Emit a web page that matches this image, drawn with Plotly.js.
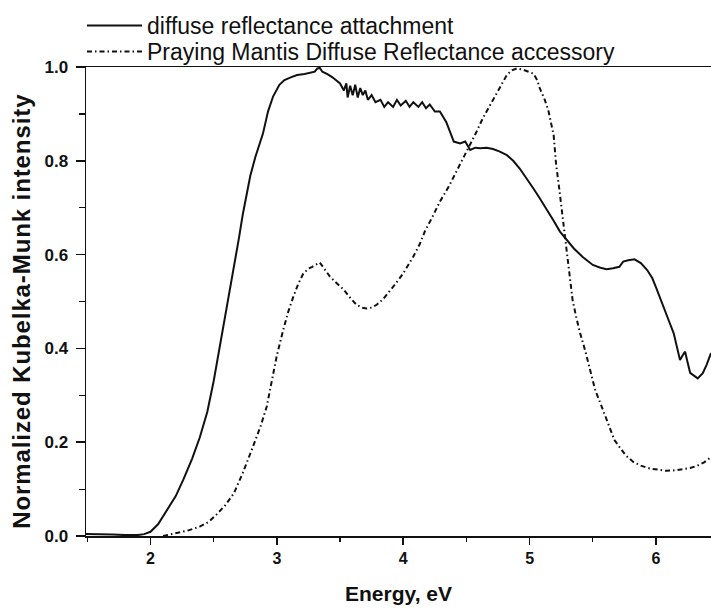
<!DOCTYPE html>
<html>
<head>
<meta charset="utf-8">
<script src="https://cdn.plot.ly/plotly-3.0.1.min.js"></script>
<style>html,body{margin:0;padding:0;background:#fff;}#chart{width:711px;height:608px;}
.annotation-text.ytitle-ann, .ytitleann text { letter-spacing: 0.9px; }
</style>
</head>
<body>
<div id="chart"></div>
<script>
var seriesNames = ["diffuse reflectance attachment", "Praying Mantis Diffuse Reflectance accessory"];
var xTitle = "Energy, eV";
var yTitle = "Normalized Kubelka-Munk intensity";

var attachX = [1.49,1.6,1.7,1.8,1.9,1.95,2.0,2.06,2.13,2.2,2.26,2.33,2.39,2.45,2.50,2.56,2.63,2.70,2.73,2.76,2.79,2.83,2.86,2.89,2.93,2.97,3.02,3.06,3.11,3.16,3.22,3.28,3.30,3.32,3.34,3.36,3.40,3.44,3.47,3.50,3.53,3.55,3.56,3.58,3.60,3.62,3.64,3.66,3.68,3.70,3.72,3.75,3.78,3.82,3.85,3.88,3.92,3.95,3.98,4.02,4.05,4.08,4.12,4.15,4.18,4.21,4.25,4.29,4.34,4.40,4.45,4.49,4.53,4.57,4.61,4.66,4.71,4.76,4.82,4.87,4.92,4.97,5.03,5.08,5.13,5.19,5.24,5.30,5.35,5.42,5.50,5.56,5.61,5.66,5.71,5.74,5.78,5.83,5.88,5.93,5.97,6.00,6.03,6.06,6.10,6.14,6.17,6.19,6.21,6.23,6.25,6.27,6.30,6.33,6.37,6.40,6.435];
var attachY = [0.004,0.004,0.003,0.002,0.002,0.004,0.009,0.025,0.055,0.085,0.12,0.165,0.21,0.265,0.33,0.42,0.525,0.635,0.685,0.728,0.768,0.808,0.835,0.858,0.905,0.937,0.962,0.972,0.978,0.983,0.985,0.988,0.99,0.997,0.998,0.99,0.985,0.978,0.972,0.965,0.95,0.965,0.935,0.96,0.94,0.962,0.935,0.955,0.94,0.95,0.93,0.94,0.925,0.93,0.915,0.925,0.915,0.93,0.918,0.928,0.915,0.925,0.915,0.925,0.912,0.92,0.905,0.905,0.883,0.841,0.837,0.841,0.823,0.828,0.827,0.828,0.825,0.82,0.812,0.80,0.784,0.765,0.741,0.72,0.699,0.672,0.649,0.628,0.613,0.595,0.578,0.572,0.569,0.571,0.574,0.585,0.588,0.59,0.582,0.567,0.55,0.53,0.51,0.49,0.46,0.432,0.40,0.375,0.385,0.393,0.37,0.348,0.342,0.336,0.347,0.365,0.39];

var mantisX = [2.10,2.13,2.2,2.3,2.39,2.46,2.52,2.59,2.66,2.73,2.81,2.87,2.92,2.95,3.00,3.05,3.09,3.13,3.17,3.21,3.25,3.28,3.31,3.34,3.38,3.42,3.47,3.53,3.58,3.63,3.67,3.71,3.75,3.79,3.84,3.89,3.94,4.00,4.04,4.08,4.13,4.17,4.23,4.29,4.36,4.42,4.48,4.53,4.58,4.63,4.69,4.75,4.79,4.82,4.86,4.90,4.95,4.99,5.03,5.06,5.08,5.12,5.15,5.19,5.21,5.23,5.25,5.27,5.29,5.32,5.34,5.37,5.40,5.44,5.48,5.52,5.56,5.60,5.64,5.67,5.71,5.76,5.82,5.88,5.95,6.02,6.08,6.15,6.21,6.27,6.32,6.38,6.435];
var mantisY = [0.0,0.002,0.006,0.012,0.02,0.03,0.045,0.065,0.091,0.134,0.19,0.233,0.276,0.318,0.385,0.439,0.478,0.51,0.538,0.56,0.57,0.574,0.578,0.583,0.568,0.553,0.54,0.525,0.508,0.493,0.487,0.485,0.487,0.493,0.505,0.521,0.538,0.56,0.578,0.596,0.622,0.649,0.68,0.713,0.745,0.777,0.806,0.834,0.862,0.891,0.92,0.947,0.968,0.983,0.993,0.997,0.994,0.99,0.986,0.972,0.955,0.93,0.905,0.855,0.791,0.75,0.706,0.665,0.62,0.56,0.503,0.465,0.432,0.395,0.355,0.31,0.283,0.253,0.226,0.205,0.19,0.172,0.158,0.15,0.144,0.141,0.139,0.14,0.142,0.145,0.149,0.157,0.168];

var xTicks = [2,3,4,5,6];
var yTicks = [0.0,0.2,0.4,0.6,0.8,1.0];
var yTickText = ["0.0","0.2","0.4","0.6","0.8","1.0"];

var FONT = "Liberation Sans, Arial, sans-serif";

var traces = [
  {x: attachX, y: attachY, name: seriesNames[0], type: "scatter", mode: "lines",
   line: {color: "#111", width: 2}, legend: "legend"},
  {x: mantisX, y: mantisY, name: seriesNames[1], type: "scatter", mode: "lines",
   line: {color: "#111", width: 2, dash: "5px,3px,1.5px,3px"}, legend: "legend2"}
];

function legendBox(ytop) {
  return {x: -0.0064, y: ytop, xanchor: "left", yanchor: "top",
          font: {family: FONT, size: 23, color: "#111"},
          bgcolor: "rgba(0,0,0,0)", borderwidth: 0, itemwidth: 55};
}

var layout = {
  width: 711, height: 608,
  margin: {l: 86, r: 0, t: 67, b: 72, pad: 0},
  paper_bgcolor: "#fff", plot_bgcolor: "#fff",
  showlegend: true,
  legend: legendBox(1.1343),
  legend2: legendBox(1.0789),
  xaxis: {range: [1.49, 6.435], tickvals: xTicks, ticktext: xTicks.map(String),
          ticks: "outside", ticklen: 7, tickwidth: 1.5, tickcolor: "#111",
          minor: {dtick: 0.5, tick0: 0, ticks: "outside", ticklen: 4, tickwidth: 1.2, tickcolor: "#111"},
          showline: true, linecolor: "#111", linewidth: 1.5, mirror: true,
          showgrid: false, zeroline: false,
          tickfont: {family: FONT, size: 16, color: "#111", weight: "bold"},
          title: {text: "<b>" + xTitle + "</b>", font: {family: FONT, size: 21, color: "#111"}, standoff: 20}},
  yaxis: {range: [0, 1.0], tickvals: yTicks, ticktext: yTickText,
          ticks: "outside", ticklen: 9, tickwidth: 1.5, tickcolor: "#111",
          ticklabelstandoff: 4,
          minor: {dtick: 0.1, tick0: 0, ticks: "outside", ticklen: 6, tickwidth: 1.2, tickcolor: "#111"},
          showline: true, linecolor: "#111", linewidth: 1.5, mirror: false,
          showgrid: false, zeroline: false,
          tickfont: {family: FONT, size: 17, color: "#111", weight: "bold"}},
  annotations: [
    {text: "<b>" + yTitle + "</b>", xref: "paper", yref: "paper",
     x: -0.1024, y: 0.48, xanchor: "center", yanchor: "middle", textangle: -90,
     showarrow: false, font: {family: FONT, size: 24, color: "#111"}}
  ]
};

Plotly.newPlot("chart", traces, layout, {displayModeBar: false, staticPlot: true}).then(function(){
  var t = document.querySelectorAll(".annotation text");
  t.forEach(function(el){ el.style.letterSpacing = "0.9px"; });
});
</script>
</body>
</html>
